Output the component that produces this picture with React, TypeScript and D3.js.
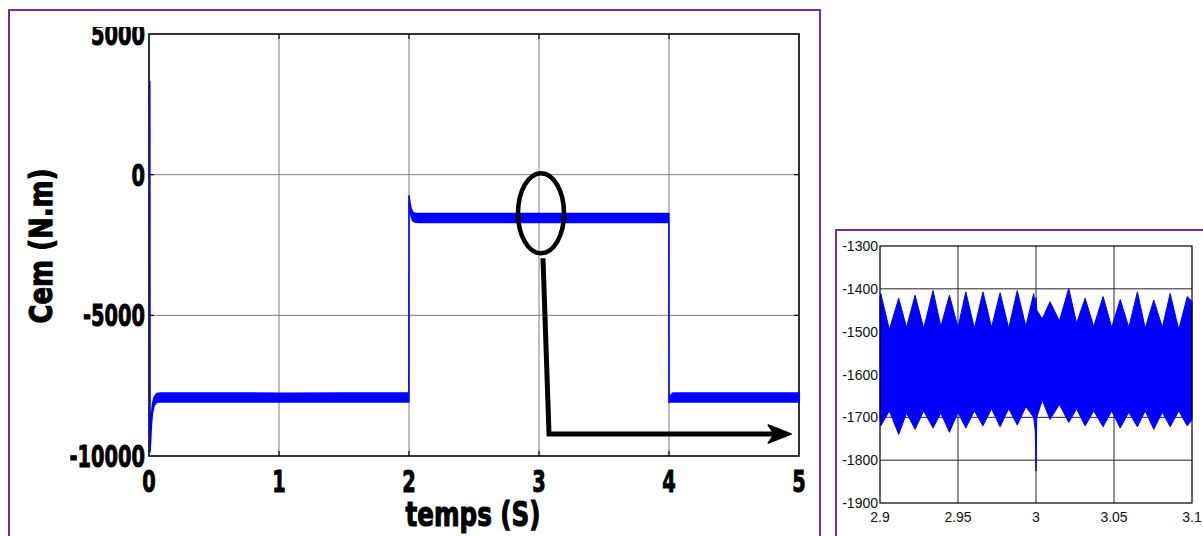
import React from "react";
import * as d3 from "d3";

// ---------- data ----------
// Main chart: electromagnetic torque envelope (upper / lower) vs time
const mainTime = [0.006, 0.008, 0.012, 0.018, 0.027, 0.04, 0.06, 0.09, 0.5, 1.0, 1.5, 1.999, 2.0, 2.006, 2.015, 2.03, 2.05, 2.08, 2.5, 3.0, 3.5, 3.999, 4.0, 4.01, 4.03, 4.5, 5.0];
const mainUpper = [3300, -9750, -9200, -8600, -8150, -7900, -7780, -7760, -7760, -7770, -7760, -7760, -750, -950, -1200, -1340, -1380, -1385, -1380, -1385, -1380, -1380, -7950, -7850, -7760, -7760, -7760];
const mainLower = [3300, -9850, -9500, -8900, -8450, -8200, -8090, -8080, -8080, -8080, -8080, -8080, -800, -1100, -1450, -1650, -1690, -1700, -1700, -1700, -1700, -1700, -8100, -8080, -8070, -8080, -8080];

const mainXTicks = [0, 1, 2, 3, 4, 5];
const mainYTicks = [-10000, -5000, 0, 5000];

// Inset (zoom 2.9 s .. 3.1 s): envelope peaks / troughs
const insetTime = [2.9, 2.9005, 2.906, 2.912, 2.917, 2.9225, 2.928, 2.934, 2.939, 2.9445, 2.95, 2.955, 2.9605, 2.966, 2.9715, 2.977, 2.9825, 2.988, 2.9935, 2.9985, 2.9995, 3.0, 3.0005, 3.004, 3.009, 3.015, 3.021, 3.026, 3.0315, 3.037, 3.043, 3.0485, 3.054, 3.0595, 3.065, 3.07, 3.0755, 3.081, 3.086, 3.0915, 3.097, 3.1];
const insetUpper = [-1420, -1411, -1495, -1422, -1490, -1415, -1492, -1404, -1488, -1415, -1490, -1407, -1492, -1407, -1490, -1409, -1492, -1404, -1488, -1411, -1440, -1420, -1450, -1470, -1430, -1475, -1399, -1480, -1422, -1488, -1418, -1490, -1425, -1490, -1407, -1492, -1426, -1490, -1411, -1495, -1418, -1430];
const insetLower = [-1700, -1720, -1685, -1740, -1690, -1728, -1685, -1725, -1690, -1735, -1688, -1725, -1685, -1720, -1680, -1722, -1680, -1718, -1675, -1700, -1730, -1825, -1700, -1660, -1705, -1670, -1712, -1680, -1720, -1685, -1722, -1685, -1725, -1688, -1722, -1685, -1728, -1688, -1722, -1685, -1720, -1705];

const insetXTicks = [2.9, 2.95, 3.0, 3.05, 3.1];
const insetXLabels = ["2.9", "2.95", "3", "3.05", "3.1"];
const insetYTicks = [-1900, -1800, -1700, -1600, -1500, -1400, -1300];

const xTitle = "temps (S)";
const yTitle = "Cem (N.m)";

// zoom annotation (data units of main chart)
const zoomCenter = { t: 3.0, v: -1300 };
const arrowLevel = -9220;
const arrowEnd = 4.94;

const BLUE = "#0000ff";
const PURPLE = "#7030a0";
const BOLD_FONT = "Impact, 'Liberation Sans Narrow', 'DejaVu Sans', sans-serif";

// width of a bold condensed numeric label (approximate Impact metrics)
const labelWidth = (s: string) =>
  s.split("").reduce((w, c) => w + (c === "-" ? 8 : 13.5), 0);

// Title squeezed horizontally to a target width, measured after render
function SqueezedTitle(props: { text: string; width: number; transform: string; fontSize: number }) {
  const ref = React.useRef<SVGTextElement | null>(null);
  const [sx, setSx] = React.useState(0.75);
  React.useEffect(() => {
    if (ref.current) {
      const w = ref.current.getComputedTextLength();
      if (w > 0) setSx(props.width / w);
    }
  }, [props.text, props.width]);
  return (
    <g transform={`${props.transform} scale(${sx},1)`}>
      <text
        ref={ref}
        x={0}
        y={0}
        textAnchor="middle"
        dominantBaseline="central"
        fontFamily={BOLD_FONT}
        fontWeight="bold"
        fontSize={props.fontSize}
        fill="#000"
        stroke="#000"
        strokeWidth={1.2}
      >
        {props.text}
      </text>
    </g>
  );
}

export default function App() {
  // main scales
  const x = d3.scaleLinear().domain([0, 5]).range([149, 799]);
  const y = d3.scaleLinear().domain([-10000, 5000]).range([456, 34]);
  // inset scales
  const xi = d3.scaleLinear().domain([2.9, 3.1]).range([880, 1192]);
  const yi = d3.scaleLinear().domain([-1900, -1300]).range([503, 246]);

  const mainArea = d3
    .area<number>()
    .x((_, i) => x(mainTime[i]))
    .y0((_, i) => y(mainLower[i]))
    .y1((_, i) => y(mainUpper[i]));

  const insetArea = d3
    .area<number>()
    .x((_, i) => xi(insetTime[i]))
    .y0((_, i) => yi(insetLower[i]))
    .y1((_, i) => yi(insetUpper[i]));

  const [x0, x1] = x.range();
  const [y0, y1] = y.range();
  const [xi0, xi1] = xi.range();
  const [yi0, yi1] = yi.range();

  const ecx = x(zoomCenter.t) + 2;
  const ecy = y(zoomCenter.v) + 2;
  const arrowY = y(arrowLevel);
  const arrowEndX = x(arrowEnd);

  const boldText = {
    fontFamily: BOLD_FONT,
    fontWeight: "bold" as const,
    fill: "#000",
    stroke: "#000",
    lengthAdjust: "spacingAndGlyphs",
  };

  return (
    <div style={{ position: "absolute", left: 0, top: 0 }}>
      <svg width={1203} height={536} style={{ display: "block", background: "#fff" }}>
        <defs>
          <clipPath id="ylabClip">
            <rect x={0} y={27} width={148} height={500} />
          </clipPath>
        </defs>

        {/* panel frames */}
        <rect x={9} y={10} width={811} height={540} fill="none" stroke={PURPLE} strokeWidth={2} />
        <rect x={836} y={230} width={400} height={340} fill="none" stroke={PURPLE} strokeWidth={2} />

        {/* ===== main chart ===== */}
        {mainXTicks.slice(1, -1).map((t) => (
          <line key={"gx" + t} x1={x(t)} x2={x(t)} y1={y1} y2={y0} stroke="#7f7f7f" strokeWidth={1} />
        ))}
        {mainYTicks.slice(1, -1).map((v) => (
          <line key={"gy" + v} x1={x0} x2={x1} y1={y(v)} y2={y(v)} stroke="#7f7f7f" strokeWidth={1} />
        ))}
        {mainXTicks.slice(1, -1).map((t) => (
          <g key={"tx" + t}>
            <line x1={x(t)} x2={x(t)} y1={y0} y2={y0 - 5} stroke="#000" strokeWidth={1.2} />
            <line x1={x(t)} x2={x(t)} y1={y1} y2={y1 + 5} stroke="#000" strokeWidth={1.2} />
          </g>
        ))}
        {mainYTicks.slice(1, -1).map((v) => (
          <g key={"ty" + v}>
            <line x1={x0} x2={x0 + 5} y1={y(v)} y2={y(v)} stroke="#000" strokeWidth={1.2} />
            <line x1={x1} x2={x1 - 5} y1={y(v)} y2={y(v)} stroke="#000" strokeWidth={1.2} />
          </g>
        ))}

        {/* axes box */}
        <rect x={x0} y={y1} width={x1 - x0} height={y0 - y1} fill="none" stroke="#000" strokeWidth={1.6} />

        {/* data */}
        <path d={mainArea(mainTime) ?? ""} fill={BLUE} stroke={BLUE} strokeWidth={1.6} strokeLinejoin="round" />

        {/* y tick labels */}
        <g clipPath="url(#ylabClip)">
          {mainYTicks.map((v) => (
            <text
              key={"yl" + v}
              x={145}
              y={y(v)}
              textAnchor="end"
              dominantBaseline="central"
              fontSize={31}
              strokeWidth={1}
              textLength={labelWidth(String(v))}
              {...boldText}
            >
              {v}
            </text>
          ))}
        </g>
        {/* x tick labels */}
        {mainXTicks.map((t) => (
          <text
            key={"xl" + t}
            x={x(t)}
            y={481}
            textAnchor="middle"
            dominantBaseline="central"
            fontSize={30}
            strokeWidth={1}
            textLength={labelWidth(String(t))}
            {...boldText}
          >
            {t}
          </text>
        ))}
        {/* axis titles */}
        <SqueezedTitle text={xTitle} width={135} transform="translate(473,515)" fontSize={33} />
        <SqueezedTitle text={yTitle} width={155} transform="translate(41,246) rotate(-90)" fontSize={32} />

        {/* zoom annotation */}
        <ellipse cx={ecx} cy={ecy} rx={23} ry={40} fill="none" stroke="#000" strokeWidth={4.5} />
        <path
          d={`M${ecx + 2},${ecy + 45} L${ecx + 8},${arrowY} L${arrowEndX - 16},${arrowY}`}
          fill="none"
          stroke="#000"
          strokeWidth={5}
          strokeLinejoin="miter"
        />
        <path
          d={`M${arrowEndX},${arrowY} L${arrowEndX - 23},${arrowY - 9} L${arrowEndX - 17},${arrowY} L${arrowEndX - 23},${arrowY + 9} Z`}
          fill="#000"
          stroke="#000"
          strokeWidth={1.5}
          strokeLinejoin="round"
        />

        {/* ===== inset chart ===== */}
        {insetXTicks.slice(1, -1).map((t) => (
          <line key={"igx" + t} x1={xi(t)} x2={xi(t)} y1={yi1} y2={yi0} stroke="#222" strokeWidth={1} />
        ))}
        {insetYTicks.slice(1, -1).map((v) => (
          <line key={"igy" + v} x1={xi0} x2={xi1} y1={yi(v)} y2={yi(v)} stroke="#222" strokeWidth={1} />
        ))}
        <path d={insetArea(insetTime) ?? ""} fill={BLUE} stroke={BLUE} strokeWidth={1} strokeLinejoin="miter" />
        <rect x={xi0} y={yi1} width={xi1 - xi0} height={yi0 - yi1} fill="none" stroke="#000" strokeWidth={1.2} />
        {insetYTicks.map((v) => (
          <text
            key={"iyl" + v}
            x={878}
            y={yi(v)}
            textAnchor="end"
            dominantBaseline="central"
            fontFamily="'Liberation Sans', Arial, sans-serif"
            fontSize={14}
            fill="#111"
          >
            {v}
          </text>
        ))}
        {insetXTicks.map((t, i) => (
          <text
            key={"ixl" + t}
            x={xi(t)}
            y={517}
            textAnchor="middle"
            dominantBaseline="central"
            fontFamily="'Liberation Sans', Arial, sans-serif"
            fontSize={14}
            fill="#111"
          >
            {insetXLabels[i]}
          </text>
        ))}
      </svg>
    </div>
  );
}
